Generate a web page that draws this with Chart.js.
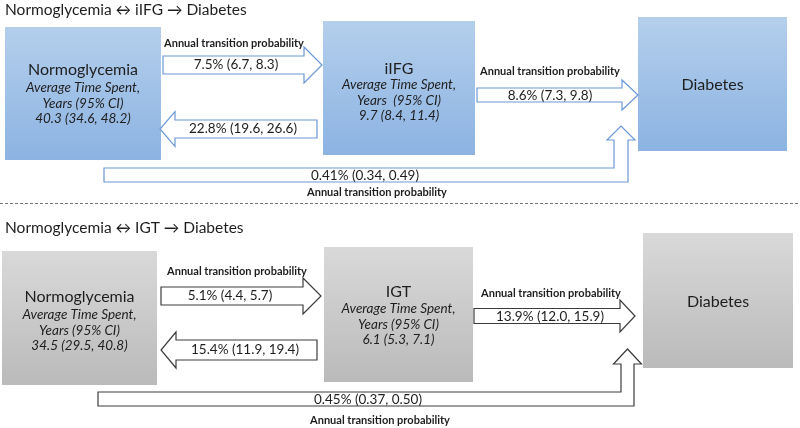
<!DOCTYPE html>
<html>
<head>
<meta charset="utf-8">
<script src="https://cdn.jsdelivr.net/npm/chart.js@4"></script>
<style>
  body { margin: 0; background: #fff; }
  canvas { display: block; }
</style>
</head>
<body>
<canvas id="c" width="800" height="428"></canvas>
<script>
// ---------- data ----------
const titles      = ['Normoglycemia \u2194 iIFG \u2192 Diabetes', 'Normoglycemia \u2194 IGT \u2192 Diabetes'];
const states      = [['Normoglycemia', 'iIFG', 'Diabetes'], ['Normoglycemia', 'IGT', 'Diabetes']];
const ciHeaders   = [['Years (95% CI)', 'Years  (95% CI)'], ['Years (95% CI)', 'Years (95% CI)']];
const timeSpent   = [[[40.3, 34.6, 48.2], [9.7, 8.4, 11.4]], [[34.5, 29.5, 40.8], [6.1, 5.3, 7.1]]];
const toMiddle    = [[7.5, 6.7, 8.3], [5.1, 4.4, 5.7]];      // annual %, normo -> iIFG/IGT
const backToNormo = [[22.8, 19.6, 26.6], [15.4, 11.9, 19.4]];
const toDiabetes  = [[8.6, 7.3, 9.8], [13.9, 12.0, 15.9]];
const direct      = [[0.41, 0.34, 0.49], [0.45, 0.37, 0.50]]; // normo -> diabetes
const probLabel   = 'Annual transition probability';
const timeLabel   = 'Average Time Spent,';

// ---------- layout (diagram units = canvas px) ----------
const boxGeom = [
  [[5, 27, 161, 160], [323, 21, 475, 155], [638, 17, 787, 151]],
  [[2, 251, 157, 385], [324, 247, 473, 382], [643, 233, 793, 368]]
];
const nameY   = [[70, 69], [297, 292]];   // box title line, then 3 italic lines
const lineGap = [[18, 16], [18, 17]];
// arrows: [tail x, tip x, centre y, shaft half, head half, head length]
const fwdArrow  = [[163, 322, 65, 9, 18, 18], [161, 321, 296, 9, 18, 18]];
const backArrow = [[317, 160, 129, 9, 17.5, 15], [317, 161, 350, 10, 18, 15]];
const diaArrow  = [[477, 638, 95, 7, 15, 16], [474, 635, 316, 7.5, 16, 15]];
// L arrow: [left x, top y, bottom y, shaft left x, shaft right x, head base y, tip y, head half]
const lArrow = [[104, 168, 182, 614, 628, 140, 126, 14], [98, 392, 406, 621, 634, 364, 349, 14]];
const labelPos = [
  { p1: [234, 43], v1: [236, 65], back: [243, 129], p2: [550, 71], v2: [550, 96], v3: [365, 176], p3: [377, 192] },
  { p1: [237, 271], v1: [230, 296], back: [245, 350], p2: [551, 293], v2: [550, 317], v3: [368, 400], p3: [380, 420] }
];
const titlePos = [[5, 10], [5, 228]];
const dividerY = 203;

const boxFill     = [['#b4cfec', '#8cb3e2'], ['#d9d9d9', '#bababa']];
const arrowStroke = ['#6b98d6', '#3c3c3c'];
const FONT = 'Lato, "Open Sans", sans-serif';

const fmt = (v, d) => `${v[0].toFixed(d)}% (${v[1].toFixed(d)}, ${v[2].toFixed(d)})`;
const fmtT = v => `${v[0].toFixed(1)} (${v[1].toFixed(1)}, ${v[2].toFixed(1)})`;

// ---------- drawing plugin ----------
const diagram = {
  id: 'diagram',
  beforeDraw(chart) {
    const c = chart.ctx;
    c.save(); c.fillStyle = '#fff'; c.fillRect(0, 0, chart.width, chart.height); c.restore();
  },
  afterDraw(chart) {
    const c = chart.ctx;
    const X = v => chart.scales.x.getPixelForValue(v);
    const Y = v => chart.scales.y.getPixelForValue(v);

    const poly = (pts, stroke) => {
      c.beginPath();
      pts.forEach(([a, b], i) => i ? c.lineTo(X(a), Y(b)) : c.moveTo(X(a), Y(b)));
      c.closePath();
      c.fillStyle = '#fff'; c.fill();
      c.lineWidth = 1.2; c.strokeStyle = stroke; c.stroke();
    };
    const arrowH = ([t, tip, yc, sh, hh, hl], stroke) => {
      const dir = tip > t ? 1 : -1, hb = tip - dir * hl;
      poly([[t, yc - sh], [hb, yc - sh], [hb, yc - hh], [tip, yc], [hb, yc + hh], [hb, yc + sh], [t, yc + sh]], stroke);
    };
    const arrowL = ([xl, yt, yb, sl, sr, hb, tip, hh], stroke) => {
      const cx = (sl + sr) / 2;
      poly([[xl, yt], [sl, yt], [sl, hb], [cx - hh, hb], [cx, tip], [cx + hh, hb], [sr, hb], [sr, yb], [xl, yb]], stroke);
    };
    const text = (s, px, py, font, align = 'center') => {
      c.font = font; c.fillStyle = '#1e1e1e';
      c.textAlign = align; c.textBaseline = 'middle';
      c.fillText(s, X(px), Y(py));
    };

    c.save();
    for (let p = 0; p < 2; p++) {
      text(titles[p], titlePos[p][0], titlePos[p][1], `15.5px ${FONT}`, 'left');

      // boxes
      boxGeom[p].forEach(([x0, y0, x1, y1], i) => {
        const g = c.createLinearGradient(0, Y(y0), 0, Y(y1));
        g.addColorStop(0, boxFill[p][0]); g.addColorStop(1, boxFill[p][1]);
        c.fillStyle = g;
        c.fillRect(X(x0), Y(y0), X(x1) - X(x0), Y(y1) - Y(y0));
        const cx = (x0 + x1) / 2;
        if (i === 2) { text(states[p][i], cx, (y0 + y1) / 2 + 1, `16px ${FONT}`); return; }
        const ny = nameY[p][i], gap = lineGap[p][i];
        text(states[p][i], cx, ny, `16px ${FONT}`);
        text(timeLabel, cx, ny + gap, `italic 13.5px ${FONT}`);
        text(ciHeaders[p][i], cx, ny + gap + 15.5, `italic 13.5px ${FONT}`);
        text(fmtT(timeSpent[p][i]), cx, ny + gap + 31, `italic 13.5px ${FONT}`);
      });

      // arrows
      const s = arrowStroke[p];
      arrowH(fwdArrow[p], s);
      arrowH(backArrow[p], s);
      arrowH(diaArrow[p], s);
      arrowL(lArrow[p], s);

      // labels
      const L = labelPos[p];
      const bold = `bold 11px ${FONT}`, val = `13.5px ${FONT}`;
      text(probLabel, L.p1[0], L.p1[1], bold);
      text(fmt(toMiddle[p], 1), L.v1[0], L.v1[1], val);
      text(fmt(backToNormo[p], 1), L.back[0], L.back[1], val);
      text(probLabel, L.p2[0], L.p2[1], bold);
      text(fmt(toDiabetes[p], 1), L.v2[0], L.v2[1], val);
      text(fmt(direct[p], 2), L.v3[0], L.v3[1], val);
      text(probLabel, L.p3[0], L.p3[1], bold);
    }

    // divider between panels
    c.beginPath();
    c.setLineDash([3, 2]);
    c.moveTo(X(0), Y(dividerY) + 0.5); c.lineTo(X(800), Y(dividerY) + 0.5);
    c.lineWidth = 1; c.strokeStyle = '#777'; c.stroke();
    c.restore();
  }
};

new Chart(document.getElementById('c'), {
  type: 'scatter',
  data: { datasets: [{ data: [] }] },
  options: {
    responsive: false,
    animation: false,
    devicePixelRatio: 1,
    layout: { padding: 0 },
    plugins: { legend: { display: false }, tooltip: { enabled: false } },
    scales: {
      x: { type: 'linear', min: 0, max: 800, display: false },
      y: { type: 'linear', min: 0, max: 428, reverse: true, display: false }
    }
  },
  plugins: [diagram]
});
</script>
</body>
</html>
